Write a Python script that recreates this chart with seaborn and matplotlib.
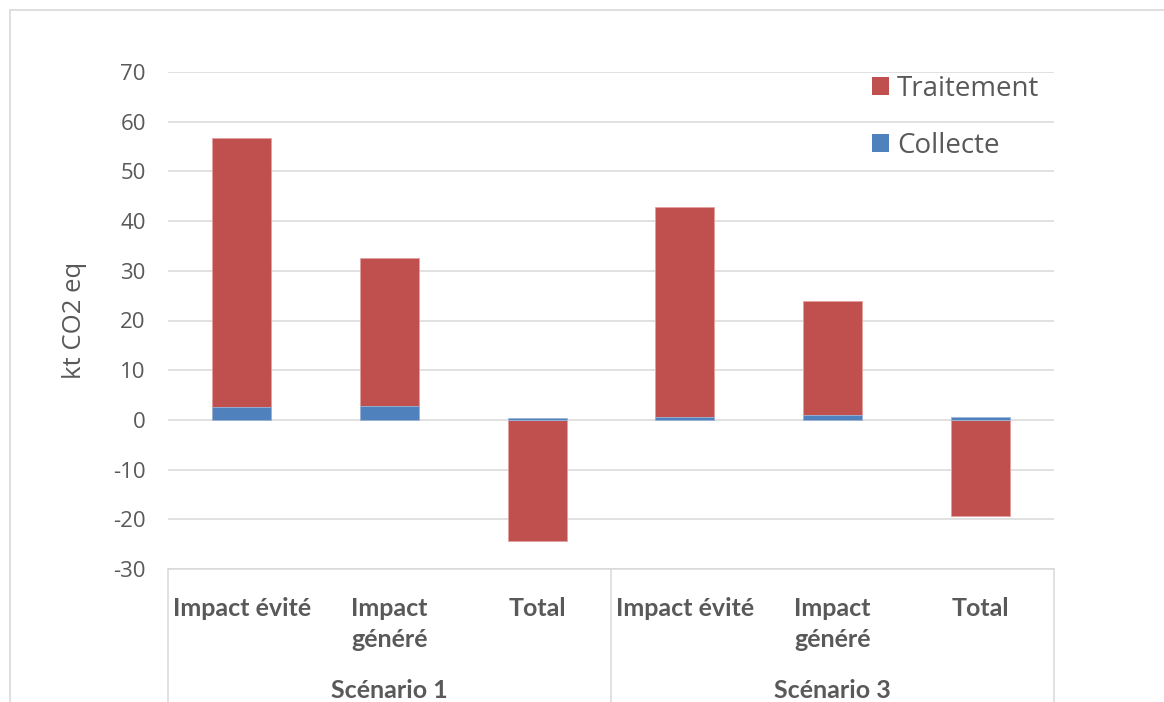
import numpy as np
import pandas as pd
import matplotlib
matplotlib.use("Agg")
import matplotlib.pyplot as plt
from matplotlib.lines import Line2D
from matplotlib.patches import Patch
import seaborn as sns

# Data (kt CO2 eq)
scenarios = ["Scénario 1", "Scénario 3"]
sub_labels = ["Impact évité", "Impact\ngénéré", "Total"]
collecte = [2.5, 2.7, 0.3, 0.5, 1.0, 0.5]
traitement = [54.2, 29.9, -24.3, 42.4, 22.9, -19.3]
y_ticks = [-30, -20, -10, 0, 10, 20, 30, 40, 50, 60, 70]

RED = "#C0504D"
BLUE = "#4F81BD"
GRID = "#D9D9D9"
TXT = "#595959"

sns.set_theme(style="white")
plt.rcParams["font.family"] = ["Open Sans", "DejaVu Sans"]

keys = [f"{s}|{c}" for s in scenarios for c in sub_labels]
coll = np.array(collecte)
trait = np.array(traitement)
# Stacked look: positive traitement sits on top of collecte, negative goes below zero
red_top = np.where(trait >= 0, coll + trait, trait)
df_red = pd.DataFrame({"cat": keys, "val": red_top})
df_blue = pd.DataFrame({"cat": keys, "val": coll})

W, H = 1164, 702
fig = plt.figure(figsize=(W / 100, H / 100), dpi=100)
ax = fig.add_axes([168 / W, 1 - 569 / H, (1054 - 168) / W, (569 - 72) / H])

edge_kw = dict(linewidth=0.6)
sns.barplot(data=df_red, x="cat", y="val", order=keys, color=RED, width=0.4,
            errorbar=None, saturation=1, edgecolor="#E3A19F", ax=ax, **edge_kw)
sns.barplot(data=df_blue, x="cat", y="val", order=keys, color=BLUE, width=0.4,
            errorbar=None, saturation=1, edgecolor="#9DB7DA", ax=ax, **edge_kw)

ax.set_ylim(-30, 70)
ax.set_xlim(-0.5, len(keys) - 0.5)
ax.set_yticks(y_ticks)
ax.set_yticklabels([str(t) for t in y_ticks], fontsize=16, color=TXT)
ax.yaxis.grid(True, color=GRID, linewidth=1.1)
ax.set_axisbelow(True)
for s in ax.spines.values():
    s.set_visible(False)
ax.tick_params(axis="y", length=0, pad=16)
ax.tick_params(axis="x", length=0, pad=20)

ax.set_xticks(range(len(keys)))
ax.set_xticklabels(sub_labels * len(scenarios), fontsize=18, fontweight="bold",
                   color=TXT, family=["Lato", "DejaVu Sans"], linespacing=1.45)
ax.set_xlabel("")
ax.set_ylabel("kt CO2 eq", fontsize=18.5, color=TXT, labelpad=19)

# Category-axis box: bottom line and group separators running to the figure edge
pos = ax.get_position()
y_end = -pos.y0 / pos.height
xt = ax.get_xaxis_transform()
ax.add_line(Line2D([-0.5, len(keys) - 0.5], [0, 0], transform=xt, color=GRID,
                   linewidth=1.1, clip_on=False))
n = len(sub_labels)
for b in range(len(scenarios) + 1):
    xb = b * n - 0.5
    ax.add_line(Line2D([xb, xb], [0, y_end], transform=xt, color=GRID,
                       linewidth=1.1, clip_on=False))
for i, s in enumerate(scenarios):
    xc = i * n + (n - 1) / 2
    ax.text(xc, (569 - 691) / (569 - 72), s, transform=xt, ha="center", va="center",
            fontsize=18, fontweight="bold", color=TXT, family=["Lato", "DejaVu Sans"])

# Chart border
fig.add_artist(Line2D([10 / W, 1.0], [1 - 9.5 / H, 1 - 9.5 / H], color=GRID, linewidth=1.2))
fig.add_artist(Line2D([10 / W, 10 / W], [1 - 9.5 / H, 0], color=GRID, linewidth=1.2))

handles = [Patch(facecolor=RED, edgecolor="none"), Patch(facecolor=BLUE, edgecolor="none")]
leg = fig.legend(handles, ["Traitement", "Collecte"], loc="upper left",
                 bbox_to_anchor=(858 / W, 1 - 61 / H), frameon=False,
                 fontsize=20, labelcolor=TXT, handlelength=0.6, handleheight=0.6,
                 handletextpad=0.3, labelspacing=1.05, borderpad=0)

fig.savefig("out.png", dpi=100, facecolor="white")
